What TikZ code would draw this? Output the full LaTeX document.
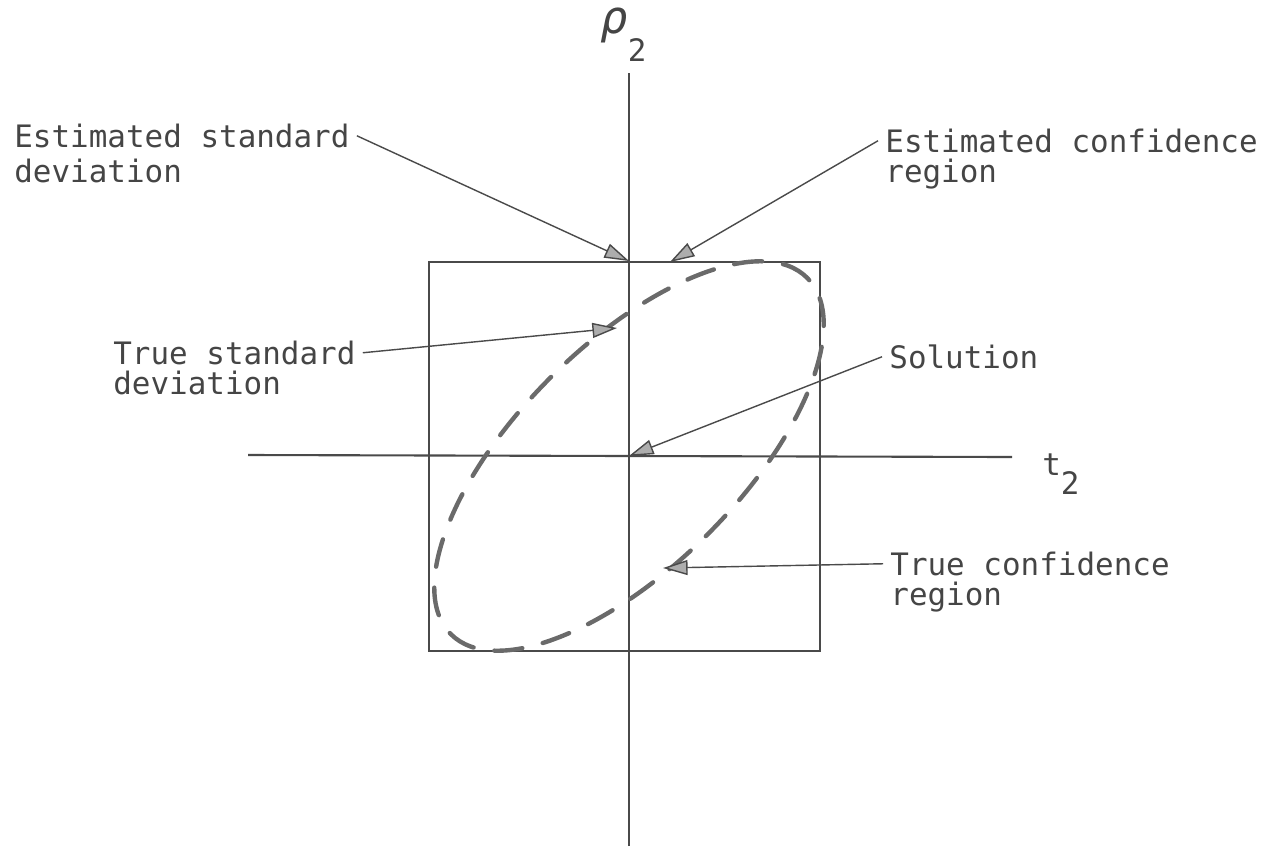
\documentclass[tikz,border=0pt]{standalone}
\usepackage{fontspec}
\setmonofont{DejaVu Sans Mono}
\usetikzlibrary{arrows.meta, positioning, calc}
\definecolor{cInk}{HTML}{454545}
\definecolor{cLine}{HTML}{4A4A4A}
\definecolor{cDash}{HTML}{6A6A6A}
\tikzset{
  lbl/.style={
    font=\ttfamily\fontsize{17.6}{17.6}\selectfont, text=cInk,
    inner xsep=4pt, inner ysep=0pt, text height=12.8pt, text depth=0pt,
  },
  axlbl/.style={
    font=\ttfamily\fontsize{17.6}{17.6}\selectfont, text=cInk, inner sep=0pt,
  },
  axisline/.style={draw=cLine, line width=1.2pt},
  ptr/.style={-{Triangle[length=14pt, width=8.5pt, fill=cDash!55]}, draw=cLine, line width=0.8pt},
  ellipsedash/.style={draw=cDash, line width=2.5pt, line cap=round, dash pattern=on 16pt off 12pt},
}

\begin{document}
\begin{tikzpicture}[
  x=0.02cm, y=-0.02cm,
  estbox/.style={draw=cLine, line width=1.2pt, inner sep=0pt,
    minimum width=7.82cm, minimum height=7.78cm},
]
  \useasboundingbox (0,0) rectangle (1271,846);

  % Axes
  \coordinate (origin) at (629,456);
  \coordinate (ytop) at (629,73);
  \coordinate (ybot) at (629,846);
  \coordinate (xleft) at (248,455);
  \coordinate (xright) at (1012,457);
  \draw[axisline] (ybot) -- (ytop);
  \draw[axisline] (xleft) -- (xright);
  \node[axlbl, anchor=base west] (ylbl) at (600,33)
    {\textit{\fontsize{26}{26}\selectfont ρ}\raisebox{-16pt}{2}};
  \node[axlbl, anchor=base west] (xlbl) at (1042,475) {t\raisebox{-11pt}{2}};

  % Box and ellipse
  \node[estbox] (box) at (624.5,456.5) {};
  \draw[ellipsedash, rotate around={45:(origin)}] (origin) ellipse [x radius=5.04cm, y radius=2.22cm];

  % Tips
  \coordinate (sdtip) at (box.north -| origin);
  \coordinate (crtip) at (670,262);
  \coordinate (tsdtip) at (617,328);
  \coordinate (tcrtip) at (663,568);

  % Labels
  \node[lbl, anchor=base west] (estsd) at (7,147) {Estimated standard};
  \node[lbl, anchor=base west] (estsd2) at ([yshift=-20pt]estsd.base west) {deviation};
  \node[lbl, anchor=base west] (estcr) at (878,152) {Estimated confidence};
  \node[lbl, anchor=base west] (estcr2) at ([yshift=-17.6pt]estcr.base west) {region};
  \node[lbl, anchor=base west] (truesd) at (106,364) {True standard};
  \node[lbl, anchor=base west] (truesd2) at ([yshift=-17.6pt]truesd.base west) {deviation};
  \node[lbl, anchor=base west] (sol) at (882,368) {Solution};
  \node[lbl, anchor=base west] (truecr) at (883,575) {True confidence};
  \node[lbl, anchor=base west] (truecr2) at ([yshift=-17.6pt]truecr.base west) {region};

  \draw[ptr] (estsd.east) -- (sdtip);
  \draw[ptr] (estcr.west) -- (crtip);
  \draw[ptr] (truesd.east) -- (tsdtip);
  \draw[ptr] (sol.west) -- (origin);
  \draw[ptr] (truecr.west) -- (tcrtip);

\end{tikzpicture}
\end{document}
